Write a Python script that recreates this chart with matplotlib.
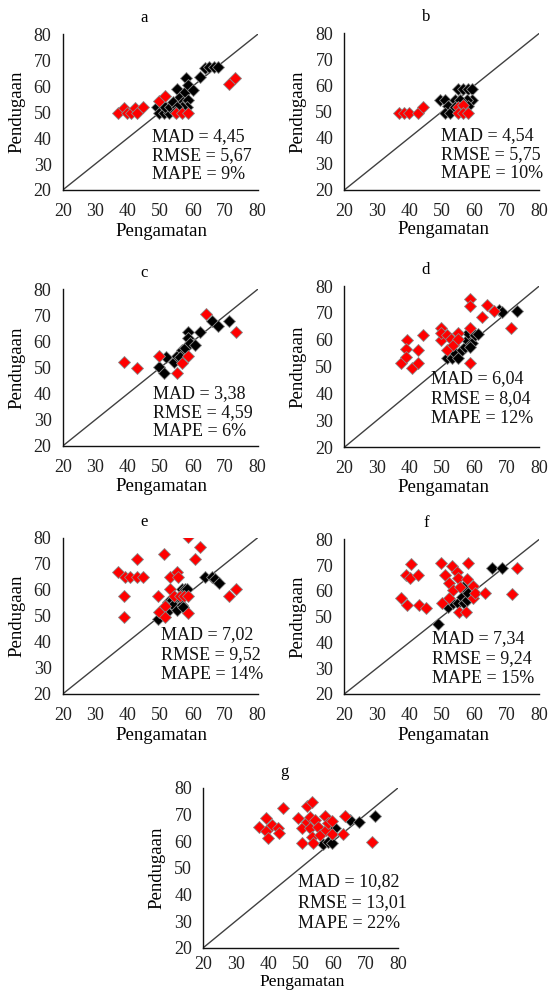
import matplotlib
matplotlib.use("Agg")
import matplotlib.pyplot as plt

plt.rcParams['font.family'] = ['Liberation Serif', 'DejaVu Serif']

W, H = 551, 990

panel_names = ["a", "b", "c", "d", "e", "f", "g"]
mad = ["4,45", "4,54", "3,38", "6,04", "7,02", "7,34", "10,82"]
rmse = ["5,67", "5,75", "4,59", "8,04", "9,52", "9,24", "13,01"]
mape = ["9%", "10%", "6%", "12%", "14%", "15%", "22%"]

ticks = [20, 30, 40, 50, 60, 70, 80]

# observed (Pengamatan) and predicted (Pendugaan) values, black = close points, red = far points
a_black_x = [48.9, 49.6, 51.2, 52.7, 51.5, 53.0, 54.0, 55.1, 56.1, 56.9, 57.6, 57.9, 58.7, 58.7, 60.2, 62.3, 63.8, 65.1, 66.4, 67.9, 58.2, 56.6, 55.1, 54.6]
a_black_y = [51.9, 49.5, 49.5, 49.5, 52.1, 52.1, 54.0, 58.8, 56.0, 54.0, 57.9, 63.0, 60.5, 54.7, 58.5, 63.4, 66.9, 67.5, 67.5, 67.5, 52.1, 52.1, 52.1, 50.2]
a_red_x = [37.1, 38.9, 39.7, 41.0, 42.3, 42.8, 44.6, 49.7, 51.5, 54.8, 56.6, 58.4, 71.3, 73.0]
a_red_y = [49.5, 51.5, 49.5, 49.5, 51.5, 49.5, 51.8, 54.4, 56.3, 49.5, 49.5, 49.5, 60.8, 63.0]

b_black_x = [49.4, 51.0, 52.0, 51.0, 52.5, 54.0, 54.9, 56.4, 58.0, 59.2, 59.2, 57.6, 55.6, 54.0, 58.2]
b_black_y = [54.5, 54.5, 52.2, 49.3, 49.3, 54.5, 58.5, 58.5, 58.5, 58.5, 54.5, 54.5, 54.5, 51.9, 52.2]
b_red_x = [36.8, 38.5, 40.0, 42.6, 44.3, 54.9, 56.6, 55.1, 56.6, 58.2]
b_red_y = [49.3, 49.3, 49.3, 49.3, 51.6, 51.9, 52.4, 49.3, 49.3, 49.3]

c_black_x = [49.6, 51.3, 51.8, 54.3, 55.1, 56.6, 57.6, 58.5, 58.7, 59.2, 60.7, 62.3, 65.8, 67.9, 71.2, 56.1]
c_black_y = [50.4, 47.8, 54.2, 52.3, 54.5, 56.8, 57.4, 63.8, 61.2, 59.3, 58.7, 63.8, 68.0, 65.9, 68.0, 54.2]
c_red_x = [38.9, 42.8, 49.7, 55.1, 56.6, 58.7, 64.0, 73.3]
c_red_y = [52.0, 50.0, 54.5, 48.1, 51.9, 54.5, 70.4, 63.8]

d_black_x = [51.5, 53.0, 54.1, 55.1, 56.1, 57.1, 57.6, 58.2, 59.2, 60.2, 61.0, 58.7, 67.6, 68.6, 73.0]
d_black_y = [53.1, 53.1, 55.0, 53.1, 56.2, 57.4, 59.9, 62.4, 58.7, 61.8, 62.1, 57.4, 71.1, 70.5, 70.8]
d_red_x = [37.4, 39.2, 39.0, 39.0, 40.7, 42.6, 42.8, 44.3, 49.6, 49.6, 49.9, 51.5, 51.5, 52.8, 53.5, 55.1, 55.1,
           58.7, 58.7, 58.7, 58.7, 62.5, 63.8, 66.0, 71.2]
d_red_y = [51.3, 59.9, 56.5, 53.7, 49.4, 56.2, 51.3, 61.8, 64.3, 59.9, 62.4, 61.8, 56.2, 60.2, 58.1, 62.4, 60.2,
           75.0, 72.6, 64.3, 51.3, 68.6, 72.9, 70.8, 64.3]

e_black_x = [49.4, 52.0, 52.5, 53.5, 54.0, 55.1, 55.8, 56.6, 57.6, 56.6, 57.1, 58.2, 63.8, 65.8, 66.9, 68.1]
e_black_y = [48.7, 51.6, 55.5, 56.1, 54.2, 52.3, 57.4, 60.2, 60.2, 54.2, 53.5, 60.2, 65.0, 65.0, 64.0, 62.7]
e_red_x = [37.1, 39.0, 39.0, 39.2, 40.7, 42.8, 42.8, 44.6, 49.4, 49.7, 51.3, 51.5, 51.5, 53.0, 53.0, 54.3, 55.1,
           55.4, 56.1, 57.4, 58.7, 58.7, 58.7, 60.7, 62.3, 71.2, 73.2]
e_red_y = [67.0, 57.7, 49.4, 64.8, 64.8, 71.7, 64.8, 64.8, 57.7, 51.6, 73.6, 53.8, 49.4, 60.2, 64.8, 57.7, 67.0,
           64.8, 57.7, 57.7, 57.7, 80.4, 51.2, 71.7, 76.3, 57.7, 60.2]

f_black_x = [48.9, 52.0, 53.5, 55.1, 56.1, 56.6, 56.9, 57.6, 58.2, 65.3, 68.4]
f_black_y = [47.1, 53.9, 55.2, 55.2, 57.7, 61.6, 55.2, 56.5, 59.0, 68.7, 68.7]
f_red_x = [37.3, 39.0, 39.2, 40.5, 40.2, 42.8, 43.1, 45.0, 49.9, 50.1, 51.1, 52.2, 52.2, 53.0, 53.5, 54.6, 55.1,
           55.3, 55.6, 57.3, 58.2, 57.8, 59.7, 59.7, 60.2, 63.3, 71.7, 73.2]
f_red_y = [57.1, 66.2, 54.5, 70.4, 64.9, 66.2, 54.5, 53.2, 70.9, 55.4, 66.2, 62.9, 57.1, 69.7, 60.3, 67.5, 64.9,
           51.9, 61.6, 51.9, 70.9, 64.5, 61.9, 57.1, 59.3, 59.3, 58.8, 68.7]

g_black_x = [56.9, 58.5, 59.5, 60.5, 65.1, 68.0, 72.8]
g_black_y = [58.8, 59.5, 59.1, 65.0, 67.9, 67.0, 69.5]
g_red_x = [37.1, 39.3, 39.2, 40.0, 41.0, 43.1, 43.4, 44.6, 49.2, 50.3, 50.5, 51.8, 51.8, 53.3, 52.8, 52.8, 53.3,
           53.6, 54.4, 55.2, 55.9, 57.4, 57.9, 58.5, 59.5, 59.5, 63.1, 63.6, 71.8]
g_red_y = [65.4, 68.5, 63.8, 61.3, 66.0, 64.8, 62.9, 72.5, 68.5, 64.8, 59.4, 67.0, 73.3, 74.5, 69.1, 64.8, 61.6,
           59.1, 67.9, 65.4, 62.3, 69.5, 64.1, 66.6, 67.5, 62.5, 62.5, 69.5, 59.8]

black_x = [a_black_x, b_black_x, c_black_x, d_black_x, e_black_x, f_black_x, g_black_x]
black_y = [a_black_y, b_black_y, c_black_y, d_black_y, e_black_y, f_black_y, g_black_y]
red_x = [a_red_x, b_red_x, c_red_x, d_red_x, e_red_x, f_red_x, g_red_x]
red_y = [a_red_y, b_red_y, c_red_y, d_red_y, e_red_y, f_red_y, g_red_y]

# layout (pixels): left, top, right, bottom of each plot area
rects = [
    (62.7, 34.3, 257.7, 190.0),
    (344.3, 33.3, 539.3, 190.0),
    (62.7, 289.3, 257.7, 446.0),
    (344.3, 286.0, 539.3, 447.3),
    (62.7, 537.7, 257.7, 694.0),
    (344.3, 539.3, 539.3, 694.0),
    (203.3, 787.7, 398.3, 947.7),
]
# stats text anchor (data coords: x of left edge, y of first line centre, line step)
stat_pos = [
    (47.4, 40.5, 7.2),
    (49.6, 41.0, 7.3),
    (47.7, 40.2, 7.3),
    (46.7, 45.7, 7.45),
    (50.3, 42.7, 7.7),
    (46.9, 41.6, 7.8),
    (49.2, 44.75, 7.8),
]
xlabel_dy = [41, 40, 41, 40, 41, 41, 34]
xtick_pad = [9, 9, 9, 9, 9, 9, 6]
xlabel_fs = [13.5, 13.5, 13.5, 13.5, 13.5, 13.5, 12.5]

fig = plt.figure(figsize=(W / 100, H / 100), dpi=100)

for i in range(7):
    l, t, r, b = rects[i]
    ax = fig.add_axes([l / W, 1 - b / H, (r - l) / W, (b - t) / H])
    ax.set_xlim(20, 80)
    ax.set_ylim(20, 80)
    ax.set_xticks(ticks)
    ax.set_yticks(ticks)
    ax.tick_params(length=0, labelsize=13, colors='#222222')
    ax.tick_params(axis='x', pad=xtick_pad[i])
    ax.tick_params(axis='y', pad=8)
    for s in ['top', 'right']:
        ax.spines[s].set_visible(False)
    for s in ['left', 'bottom']:
        ax.spines[s].set_linewidth(1.0)
        ax.spines[s].set_color('#111111')
    ax.plot([20, 80], [20, 80], color='#404040', lw=1.0, zorder=2)
    ax.plot(black_x[i], black_y[i], 'D', ms=5.8, mfc='black', mec='#8a8a8a', mew=0.6, zorder=3)
    ax.plot(red_x[i], red_y[i], 'D', ms=5.8, mfc='#ff0000', mec='#8a8a8a', mew=0.6, zorder=4)
    sx, sy, step = stat_pos[i]
    lines = ["MAD = " + mad[i], "RMSE = " + rmse[i], "MAPE = " + mape[i]]
    for k, txt in enumerate(lines):
        ax.text(sx, sy - k * step, txt, fontsize=13, ha='left', va='center', color='#111111', zorder=5)
    # title, axis labels
    fig.text((l + 81.5) / W, 1 - (t - 16) / H, panel_names[i], fontsize=12, ha='center', va='center')
    fig.text((l - 46) / W, 1 - ((t + b) / 2) / H, "Pendugaan", fontsize=13.5, rotation=90,
             ha='center', va='center')
    fig.text((l + 99) / W, 1 - (b + xlabel_dy[i]) / H, "Pengamatan", fontsize=xlabel_fs[i],
             ha='center', va='center')

fig.savefig("out.png", dpi=100)
